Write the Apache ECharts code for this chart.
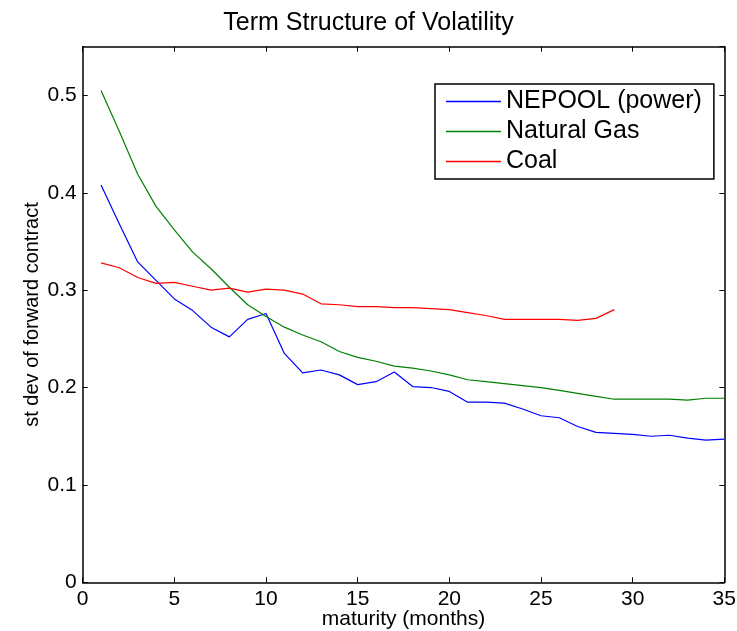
<!DOCTYPE html>
<html>
<head>
<meta charset="utf-8">
<script src="https://cdn.jsdelivr.net/npm/echarts@6/dist/echarts.min.js"></script>
<style>html,body{margin:0;padding:0;background:#fff;}#c{width:737px;height:631px;}</style>
</head>
<body>
<div id="c"></div>
<script>
const months = [1,2,3,4,5,6,7,8,9,10,11,12,13,14,15,16,17,18,19,20,21,22,23,24,25,26,27,28,29,30,31,32,33,34,35];
const nepool = [0.408,0.368,0.329,0.310,0.291,0.279,0.262,0.252,0.270,0.276,0.235,0.215,0.218,0.213,0.203,0.206,0.216,0.201,0.200,0.196,0.185,0.185,0.184,0.178,0.171,0.169,0.160,0.154,0.153,0.152,0.150,0.151,0.148,0.146,0.147];
const gas = [0.505,0.463,0.419,0.386,0.362,0.339,0.322,0.303,0.285,0.273,0.262,0.254,0.247,0.237,0.231,0.227,0.222,0.220,0.217,0.213,0.208,0.206,0.204,0.202,0.200,0.197,0.194,0.191,0.188,0.188,0.188,0.188,0.187,0.189,0.189];
const coal = [0.328,0.323,0.313,0.307,0.308,0.304,0.300,0.302,0.298,0.301,0.300,0.296,0.286,0.285,0.283,0.283,0.282,0.282,0.281,0.280,0.277,0.274,0.270,0.270,0.270,0.270,0.269,0.271,0.280];
const seriesNames = ['NEPOOL (power)', 'Natural Gas', 'Coal'];
const seriesColors = ['#0000ff', '#008000', '#ff0000'];
const xTicks = [0,5,10,15,20,25,30,35];
const yTicks = ['0','0.1','0.2','0.3','0.4','0.5'];

const FONT = '"Liberation Sans", Arial, Helvetica, sans-serif';
const pairs = (vals) => vals.map((v, i) => [months[i], v]);

const axisLine = { show: true, onZero: false, lineStyle: { color: '#000', width: 1.5 } };
const axisTick = { show: true, inside: true, length: 5, lineStyle: { color: '#000', width: 1 } };

const chart = echarts.init(document.getElementById('c'), null, { renderer: 'canvas' });
chart.setOption({
  backgroundColor: '#fff',
  animation: false,
  textStyle: { fontFamily: FONT },
  title: {
    text: 'Term Structure of Volatility',
    left: 'center',
    top: 11,
    padding: 0,
    textStyle: { fontFamily: FONT, fontSize: 25, fontWeight: 'normal', color: '#000' }
  },
  legend: {
    orient: 'vertical',
    left: 435,
    top: 84,
    padding: [5, 12, 5, 11],
    itemGap: 5,
    itemWidth: 55,
    itemHeight: 1.5,
    borderColor: '#000',
    borderWidth: 1.5,
    borderRadius: 0,
    backgroundColor: '#fff',
    data: seriesNames.map((n, i) => ({ name: n, icon: 'rect', itemStyle: { color: seriesColors[i] } })),
    textStyle: { fontFamily: FONT, fontSize: 25, lineHeight: 25, color: '#000' }
  },
  grid: { left: 82.7, right: 12.7, top: 46.7, bottom: 48.7, containLabel: false, outerBoundsMode: 'none' },
  xAxis: [
    {
      type: 'value', min: 0, max: 35, interval: 5, position: 'bottom',
      name: 'maturity (months)', nameLocation: 'middle', nameGap: 26, nameMoveOverlap: false,
      nameTextStyle: { fontFamily: FONT, fontSize: 21, lineHeight: 21, color: '#000' },
      axisLine, axisTick,
      axisLabel: { color: '#000', fontFamily: FONT, fontSize: 21, margin: 6,
        formatter: (v) => (xTicks.indexOf(v) >= 0 ? String(v) : '') },
      splitLine: { show: false }
    },
    {
      type: 'value', min: 0, max: 35, interval: 5, position: 'top',
      axisLine, axisTick, axisLabel: { show: false }, splitLine: { show: false }
    }
  ],
  yAxis: [
    {
      type: 'value', min: 0, max: 0.55, interval: 0.1, position: 'left',
      name: 'st dev of forward contract', nameLocation: 'middle', nameGap: 40, nameRotate: 90, nameMoveOverlap: false,
      nameTextStyle: { fontFamily: FONT, fontSize: 20, color: '#000' },
      axisLine, axisTick,
      axisLabel: { color: '#000', fontFamily: FONT, fontSize: 21, margin: 6, showMaxLabel: false,
        formatter: (v) => { const i = Math.round(v * 10); return (Math.abs(v * 10 - i) < 1e-6 && i < yTicks.length) ? yTicks[i] : ''; } },
      splitLine: { show: false }
    },
    {
      type: 'value', min: 0, max: 0.55, interval: 0.1, position: 'right',
      axisLine, axisTick, axisLabel: { show: false }, splitLine: { show: false }
    }
  ],
  series: [
    { name: seriesNames[0], type: 'line', data: pairs(nepool), symbol: 'none', color: seriesColors[0],
      lineStyle: { color: seriesColors[0], width: 1.2 }, xAxisIndex: 0, yAxisIndex: 0 },
    { name: seriesNames[1], type: 'line', data: pairs(gas), symbol: 'none', color: seriesColors[1],
      lineStyle: { color: seriesColors[1], width: 1.2 }, xAxisIndex: 0, yAxisIndex: 0 },
    { name: seriesNames[2], type: 'line', data: pairs(coal), symbol: 'none', color: seriesColors[2],
      lineStyle: { color: seriesColors[2], width: 1.2 }, xAxisIndex: 0, yAxisIndex: 0 }
  ]
});
</script>
</body>
</html>
